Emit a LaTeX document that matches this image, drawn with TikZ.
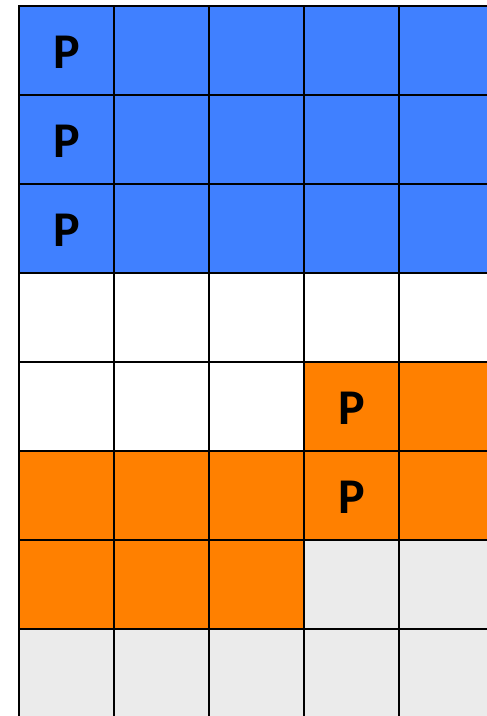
\documentclass[tikz,border=0pt]{standalone}
\usepackage{fontspec}
\setmainfont{Carlito}
\definecolor{cblue}{HTML}{4080FF}
\definecolor{corange}{HTML}{FF8000}
\definecolor{cgray}{HTML}{EBEBEB}
\begin{document}
\begin{tikzpicture}[x=1pt,y=-1pt,
  cell/.style={draw=black,line width=2.6pt},
  plabel/.style={font=\fontsize{50}{50}\selectfont\bfseries,inner sep=0pt}]
\useasboundingbox (0,0) rectangle (487,716);
\clip (0,0) rectangle (487,716);
\fill[white] (0,0) rectangle (487,716);
\def\rowcolors{{"cblue","cblue","cblue","cblue","cblue"},{"cblue","cblue","cblue","cblue","cblue"},{"cblue","cblue","cblue","cblue","cblue"},{"white","white","white","white","white"},{"white","white","white","corange","corange"},{"corange","corange","corange","corange","corange"},{"corange","corange","corange","cgray","cgray"},{"cgray","cgray","cgray","cgray","cgray"}}
\foreach \r/\cols in {0/{cblue,cblue,cblue,cblue,cblue},1/{cblue,cblue,cblue,cblue,cblue},2/{cblue,cblue,cblue,cblue,cblue},3/{white,white,white,white,white},4/{white,white,white,corange,corange},5/{corange,corange,corange,corange,corange},6/{corange,corange,corange,cgray,cgray},7/{cgray,cgray,cgray,cgray,cgray}}{
  \foreach \colr [count=\c from 0] in \cols {
    \filldraw[cell,fill=\colr] ({19+95*\c},{6+89*\r}) rectangle ({19+95*(\c+1)},{6+89*(\r+1)});
  }
}
\node[plabel] (p1) at (66.5,52.5) {P};
\node[plabel] (p2) at (66.5,141.5) {P};
\node[plabel] (p3) at (66.5,230.5) {P};
\node[plabel] (p4) at (351.5,408.5) {P};
\node[plabel] (p5) at (351.5,497.5) {P};
\end{tikzpicture}
\end{document}
